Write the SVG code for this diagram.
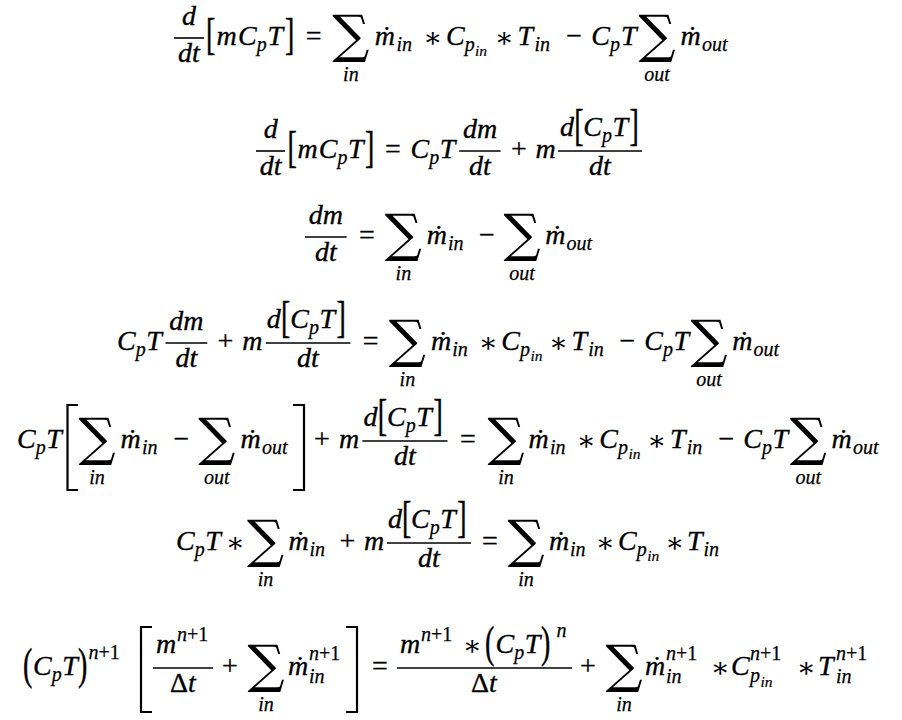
<svg xmlns="http://www.w3.org/2000/svg" width="902" height="720" viewBox="0 0 902 720">
<style>
.i { font-style: italic; font-size: 28px; stroke: #000; stroke-width: 0.35px; }
.u { font-size: 28px; font-style: normal; stroke: #000; stroke-width: 0.3px; }
.s { font-style: italic; font-size: 20px; stroke: #000; stroke-width: 0.25px; }
.su { font-style: normal; }
.ss { font-style: italic; font-size: 15.5px; stroke: #000; stroke-width: 0.2px; }
.c { text-anchor: middle; }
.sum { font-size: 52px; text-anchor: middle; font-style: normal; }
.ast { font-size: 28px; text-anchor: middle; font-style: normal; }
.bar { stroke: #000; stroke-width: 1.6; }
.bk { fill: none; stroke: #000; stroke-width: 2.2; }
</style>
<rect width="902" height="720" fill="#fff"/>

<g id="eq1" transform="translate(0,45)">
  <text font-family="Liberation Serif" class="i c" x="189" y="-20">d</text>
  <line class="bar" x1="174" y1="-7" x2="204" y2="-7"/>
  <text font-family="Liberation Serif" class="i c" x="189" y="17">dt</text>
  <text font-family="Liberation Serif" class="u" transform="translate(206,3.9) scale(1,1.55)">[</text>
  <text font-family="Liberation Serif" class="i" x="216.5" y="0">m</text>
  <text font-family="Liberation Serif" class="i" x="238" y="0">C</text>
  <text font-family="Liberation Serif" class="s" x="256.7" y="6">p</text>
  <text font-family="Liberation Serif" class="i" x="267.5" y="0">T</text>
  <text font-family="Liberation Serif" class="u" transform="translate(285,3.9) scale(1,1.55)">]</text>
  <text font-family="Liberation Serif" class="u c" x="313.7" y="0">=</text>
  <text font-family="DejaVu Serif" class="sum" x="350.9" y="7">∑</text>
  <text font-family="Liberation Serif" class="s c" x="350.9" y="36">in</text>
  <text font-family="Liberation Serif" class="i" x="374.7" y="0">ṁ</text>
  <text font-family="Liberation Serif" class="s" x="396.4" y="6">in</text>
  <text font-family="DejaVu Serif" class="ast" x="432.6" y="2">∗</text>
  <text font-family="Liberation Serif" class="i" x="446" y="0">C</text>
  <text font-family="Liberation Serif" class="s" x="464.7" y="6">p</text>
  <text font-family="Liberation Serif" class="ss" x="475" y="11">in</text>
  <text font-family="DejaVu Serif" class="ast" x="503.9" y="2">∗</text>
  <text font-family="Liberation Serif" class="i" x="517.4" y="0">T</text>
  <text font-family="Liberation Serif" class="s" x="534.4" y="6">in</text>
  <text font-family="Liberation Serif" class="u c" x="574.2" y="0">−</text>
  <text font-family="Liberation Serif" class="i" x="591.3" y="0">C</text>
  <text font-family="Liberation Serif" class="s" x="610" y="6">p</text>
  <text font-family="Liberation Serif" class="i" x="621" y="0">T</text>
  <text font-family="DejaVu Serif" class="sum" x="657" y="7">∑</text>
  <text font-family="Liberation Serif" class="s c" x="657" y="36">out</text>
  <text font-family="Liberation Serif" class="i" x="680.5" y="0">ṁ</text>
  <text font-family="Liberation Serif" class="s" x="702" y="6">out</text>
</g>

<g id="eq2" transform="translate(0,158)">
  <text font-family="Liberation Serif" class="i c" x="270.7" y="-20">d</text>
  <line class="bar" x1="256" y1="-7" x2="285" y2="-7"/>
  <text font-family="Liberation Serif" class="i c" x="270.7" y="17">dt</text>
  <text font-family="Liberation Serif" class="u" transform="translate(287.4,3.9) scale(1,1.55)">[</text>
  <text font-family="Liberation Serif" class="i" x="297.6" y="0">m</text>
  <text font-family="Liberation Serif" class="i" x="318.8" y="0">C</text>
  <text font-family="Liberation Serif" class="s" x="337.5" y="6">p</text>
  <text font-family="Liberation Serif" class="i" x="348" y="0">T</text>
  <text font-family="Liberation Serif" class="u" transform="translate(365,3.9) scale(1,1.55)">]</text>
  <text font-family="Liberation Serif" class="u c" x="392.8" y="0">=</text>
  <text font-family="Liberation Serif" class="i" x="410.5" y="0">C</text>
  <text font-family="Liberation Serif" class="s" x="429.2" y="6">p</text>
  <text font-family="Liberation Serif" class="i" x="439.8" y="0">T</text>
  <text font-family="Liberation Serif" class="i c" x="480" y="-20">dm</text>
  <line class="bar" x1="459.2" y1="-7" x2="500.6" y2="-7"/>
  <text font-family="Liberation Serif" class="i c" x="480" y="17">dt</text>
  <text font-family="Liberation Serif" class="u c" x="518.9" y="0">+</text>
  <text font-family="Liberation Serif" class="i" x="535.6" y="0">m</text>
  <text font-family="Liberation Serif" class="i" x="560" y="-22">d</text>
  <text font-family="Liberation Serif" class="u" transform="translate(574.2,-18.1) scale(1,1.55)">[</text>
  <text font-family="Liberation Serif" class="i" x="583.3" y="-22">C</text>
  <text font-family="Liberation Serif" class="s" x="602" y="-16">p</text>
  <text font-family="Liberation Serif" class="i" x="612.6" y="-22">T</text>
  <text font-family="Liberation Serif" class="u" transform="translate(629.5,-18.1) scale(1,1.55)">]</text>
  <line class="bar" x1="558" y1="-7" x2="642" y2="-7"/>
  <text font-family="Liberation Serif" class="i c" x="600" y="17">dt</text>
</g>

<g id="eq3" transform="translate(0,244)">
  <text font-family="Liberation Serif" class="i c" x="325.8" y="-20">dm</text>
  <line class="bar" x1="305" y1="-7" x2="346.6" y2="-7"/>
  <text font-family="Liberation Serif" class="i c" x="325.8" y="17">dt</text>
  <text font-family="Liberation Serif" class="u c" x="366.9" y="0">=</text>
  <text font-family="DejaVu Serif" class="sum" x="403.4" y="7">∑</text>
  <text font-family="Liberation Serif" class="s c" x="403.4" y="36">in</text>
  <text font-family="Liberation Serif" class="i" x="426.7" y="0">ṁ</text>
  <text font-family="Liberation Serif" class="s" x="448" y="6">in</text>
  <text font-family="Liberation Serif" class="u c" x="487" y="0">−</text>
  <text font-family="DejaVu Serif" class="sum" x="522" y="7">∑</text>
  <text font-family="Liberation Serif" class="s c" x="522" y="36">out</text>
  <text font-family="Liberation Serif" class="i" x="545.3" y="0">ṁ</text>
  <text font-family="Liberation Serif" class="s" x="566.6" y="6">out</text>
</g>

<g id="eq4" transform="translate(0,350)">
  <text font-family="Liberation Serif" class="i" x="117" y="0">C</text>
  <text font-family="Liberation Serif" class="s" x="135.7" y="6">p</text>
  <text font-family="Liberation Serif" class="i" x="146.3" y="0">T</text>
  <text font-family="Liberation Serif" class="i c" x="186.4" y="-20">dm</text>
  <line class="bar" x1="165.5" y1="-7" x2="207.3" y2="-7"/>
  <text font-family="Liberation Serif" class="i c" x="186.4" y="17">dt</text>
  <text font-family="Liberation Serif" class="u c" x="225.5" y="0">+</text>
  <text font-family="Liberation Serif" class="i" x="242.3" y="0">m</text>
  <text font-family="Liberation Serif" class="i" x="266.8" y="-22">d</text>
  <text font-family="Liberation Serif" class="u" transform="translate(281,-18.1) scale(1,1.55)">[</text>
  <text font-family="Liberation Serif" class="i" x="290.2" y="-22">C</text>
  <text font-family="Liberation Serif" class="s" x="308.9" y="-16">p</text>
  <text font-family="Liberation Serif" class="i" x="319.4" y="-22">T</text>
  <text font-family="Liberation Serif" class="u" transform="translate(336.5,-18.1) scale(1,1.55)">]</text>
  <line class="bar" x1="265.8" y1="-7" x2="350.4" y2="-7"/>
  <text font-family="Liberation Serif" class="i c" x="308" y="17">dt</text>
  <text font-family="Liberation Serif" class="u c" x="370.7" y="0">=</text>
  <text font-family="DejaVu Serif" class="sum" x="407.4" y="7">∑</text>
  <text font-family="Liberation Serif" class="s c" x="407.4" y="36">in</text>
  <text font-family="Liberation Serif" class="i" x="430.9" y="0">ṁ</text>
  <text font-family="Liberation Serif" class="s" x="452.3" y="6">in</text>
  <text font-family="DejaVu Serif" class="ast" x="487.9" y="2">∗</text>
  <text font-family="Liberation Serif" class="i" x="501.2" y="0">C</text>
  <text font-family="Liberation Serif" class="s" x="519.9" y="6">p</text>
  <text font-family="Liberation Serif" class="ss" x="530.4" y="11">in</text>
  <text font-family="DejaVu Serif" class="ast" x="558.2" y="2">∗</text>
  <text font-family="Liberation Serif" class="i" x="571.5" y="0">T</text>
  <text font-family="Liberation Serif" class="s" x="588.3" y="6">in</text>
  <text font-family="Liberation Serif" class="u c" x="627.5" y="0">−</text>
  <text font-family="Liberation Serif" class="i" x="644.3" y="0">C</text>
  <text font-family="Liberation Serif" class="s" x="663" y="6">p</text>
  <text font-family="Liberation Serif" class="i" x="673.5" y="0">T</text>
  <text font-family="DejaVu Serif" class="sum" x="709" y="7">∑</text>
  <text font-family="Liberation Serif" class="s c" x="709" y="36">out</text>
  <text font-family="Liberation Serif" class="i" x="732.2" y="0">ṁ</text>
  <text font-family="Liberation Serif" class="s" x="753.5" y="6">out</text>
</g>

<g id="eq5" transform="translate(0,448)">
  <text font-family="Liberation Serif" class="i" x="17" y="0">C</text>
  <text font-family="Liberation Serif" class="s" x="35.7" y="6">p</text>
  <text font-family="Liberation Serif" class="i" x="46.2" y="0">T</text>
  <path class="bk" d="M78,-43 H67.5 V42 H78"/>
  <text font-family="DejaVu Serif" class="sum" x="97" y="7">∑</text>
  <text font-family="Liberation Serif" class="s c" x="97" y="36">in</text>
  <text font-family="Liberation Serif" class="i" x="120.5" y="0">ṁ</text>
  <text font-family="Liberation Serif" class="s" x="142" y="6">in</text>
  <text font-family="Liberation Serif" class="u c" x="181.5" y="0">−</text>
  <text font-family="DejaVu Serif" class="sum" x="216.9" y="7">∑</text>
  <text font-family="Liberation Serif" class="s c" x="216.9" y="36">out</text>
  <text font-family="Liberation Serif" class="i" x="240.5" y="0">ṁ</text>
  <text font-family="Liberation Serif" class="s" x="262" y="6">out</text>
  <path class="bk" d="M293,-43 H304 V42 H293"/>
  <text font-family="Liberation Serif" class="u c" x="321.9" y="0">+</text>
  <text font-family="Liberation Serif" class="i" x="338.9" y="0">m</text>
  <text font-family="Liberation Serif" class="i" x="363.5" y="-22">d</text>
  <text font-family="Liberation Serif" class="u" transform="translate(377.8,-18.1) scale(1,1.55)">[</text>
  <text font-family="Liberation Serif" class="i" x="387" y="-22">C</text>
  <text font-family="Liberation Serif" class="s" x="405.7" y="-16">p</text>
  <text font-family="Liberation Serif" class="i" x="416.2" y="-22">T</text>
  <text font-family="Liberation Serif" class="u" transform="translate(433.5,-18.1) scale(1,1.55)">]</text>
  <line class="bar" x1="362.4" y1="-7" x2="447.5" y2="-7"/>
  <text font-family="Liberation Serif" class="i c" x="405" y="17">dt</text>
  <text font-family="Liberation Serif" class="u c" x="468" y="0">=</text>
  <text font-family="DejaVu Serif" class="sum" x="506" y="7">∑</text>
  <text font-family="Liberation Serif" class="s c" x="506" y="36">in</text>
  <text font-family="Liberation Serif" class="i" x="528.5" y="0">ṁ</text>
  <text font-family="Liberation Serif" class="s" x="550" y="6">in</text>
  <text font-family="DejaVu Serif" class="ast" x="585.9" y="2">∗</text>
  <text font-family="Liberation Serif" class="i" x="599.2" y="0">C</text>
  <text font-family="Liberation Serif" class="s" x="617.9" y="6">p</text>
  <text font-family="Liberation Serif" class="ss" x="628.4" y="11">in</text>
  <text font-family="DejaVu Serif" class="ast" x="656.6" y="2">∗</text>
  <text font-family="Liberation Serif" class="i" x="670" y="0">T</text>
  <text font-family="Liberation Serif" class="s" x="686.8" y="6">in</text>
  <text font-family="Liberation Serif" class="u c" x="726.3" y="0">−</text>
  <text font-family="Liberation Serif" class="i" x="743.2" y="0">C</text>
  <text font-family="Liberation Serif" class="s" x="761.9" y="6">p</text>
  <text font-family="Liberation Serif" class="i" x="772.4" y="0">T</text>
  <text font-family="DejaVu Serif" class="sum" x="808.3" y="7">∑</text>
  <text font-family="Liberation Serif" class="s c" x="808.3" y="36">out</text>
  <text font-family="Liberation Serif" class="i" x="831.6" y="0">ṁ</text>
  <text font-family="Liberation Serif" class="s" x="853" y="6">out</text>
</g>

<g id="eq6" transform="translate(0,550)">
  <text font-family="Liberation Serif" class="i" x="176" y="0">C</text>
  <text font-family="Liberation Serif" class="s" x="194.7" y="6">p</text>
  <text font-family="Liberation Serif" class="i" x="205.2" y="0">T</text>
  <text font-family="DejaVu Serif" class="ast" x="235" y="2">∗</text>
  <text font-family="DejaVu Serif" class="sum" x="265.5" y="7">∑</text>
  <text font-family="Liberation Serif" class="s c" x="265.5" y="36">in</text>
  <text font-family="Liberation Serif" class="i" x="288.5" y="0">ṁ</text>
  <text font-family="Liberation Serif" class="s" x="309.5" y="6">in</text>
  <text font-family="Liberation Serif" class="u c" x="347.5" y="0">+</text>
  <text font-family="Liberation Serif" class="i" x="364" y="0">m</text>
  <text font-family="Liberation Serif" class="i" x="388" y="-22">d</text>
  <text font-family="Liberation Serif" class="u" transform="translate(402,-18.1) scale(1,1.55)">[</text>
  <text font-family="Liberation Serif" class="i" x="411" y="-22">C</text>
  <text font-family="Liberation Serif" class="s" x="429.7" y="-16">p</text>
  <text font-family="Liberation Serif" class="i" x="440.2" y="-22">T</text>
  <text font-family="Liberation Serif" class="u" transform="translate(457.3,-18.1) scale(1,1.55)">]</text>
  <line class="bar" x1="387" y1="-7" x2="471" y2="-7"/>
  <text font-family="Liberation Serif" class="i c" x="429" y="17">dt</text>
  <text font-family="Liberation Serif" class="u c" x="490" y="0">=</text>
  <text font-family="DejaVu Serif" class="sum" x="526" y="7">∑</text>
  <text font-family="Liberation Serif" class="s c" x="526" y="36">in</text>
  <text font-family="Liberation Serif" class="i" x="549" y="0">ṁ</text>
  <text font-family="Liberation Serif" class="s" x="570" y="6">in</text>
  <text font-family="DejaVu Serif" class="ast" x="605" y="2">∗</text>
  <text font-family="Liberation Serif" class="i" x="618" y="0">C</text>
  <text font-family="Liberation Serif" class="s" x="636.7" y="6">p</text>
  <text font-family="Liberation Serif" class="ss" x="647.2" y="11">in</text>
  <text font-family="DejaVu Serif" class="ast" x="674.5" y="2">∗</text>
  <text font-family="Liberation Serif" class="i" x="687" y="0">T</text>
  <text font-family="Liberation Serif" class="s" x="703.5" y="6">in</text>
</g>

<g id="eq7" transform="translate(0,675)">
  <text font-family="Liberation Serif" class="u" transform="translate(23,3.8) scale(1,1.55)">(</text>
  <text font-family="Liberation Serif" class="i" x="33" y="0">C</text>
  <text font-family="Liberation Serif" class="s" x="51.7" y="6">p</text>
  <text font-family="Liberation Serif" class="i" x="62.2" y="0">T</text>
  <text font-family="Liberation Serif" class="u" transform="translate(78,3.8) scale(1,1.55)">)</text>
  <text font-family="Liberation Serif" class="s" x="88.5" y="-16">n<tspan class="su">+1</tspan></text>
  <path class="bk" d="M152,-48 H141 V37 H152"/>
  <text font-family="Liberation Serif" class="i" x="156" y="-22">m</text>
  <text font-family="Liberation Serif" class="s" x="177" y="-34">n<tspan class="su">+1</tspan></text>
  <line class="bar" x1="153" y1="-7" x2="213" y2="-7"/>
  <text font-family="Liberation Serif" class="i c" x="183" y="17"><tspan class="su">Δ</tspan>t</text>
  <text font-family="Liberation Serif" class="u c" x="230" y="0">+</text>
  <text font-family="DejaVu Serif" class="sum" x="266" y="7">∑</text>
  <text font-family="Liberation Serif" class="s c" x="266" y="36">in</text>
  <text font-family="Liberation Serif" class="i" x="288" y="0">ṁ</text>
  <text font-family="Liberation Serif" class="s" x="309" y="-15">n<tspan class="su">+1</tspan></text>
  <text font-family="Liberation Serif" class="s" x="309" y="8">in</text>
  <path class="bk" d="M346,-48 H357 V37 H346"/>
  <text font-family="Liberation Serif" class="u c" x="380" y="0">=</text>
  <text font-family="Liberation Serif" class="i" x="400" y="-22">m</text>
  <text font-family="Liberation Serif" class="s" x="421" y="-34">n<tspan class="su">+1</tspan></text>
  <text font-family="DejaVu Serif" class="ast" x="472" y="-20">∗</text>
  <text font-family="Liberation Serif" class="u" transform="translate(485,-18.2) scale(1,1.55)">(</text>
  <text font-family="Liberation Serif" class="i" x="495.5" y="-22">C</text>
  <text font-family="Liberation Serif" class="s" x="514.2" y="-16">p</text>
  <text font-family="Liberation Serif" class="i" x="524.7" y="-22">T</text>
  <text font-family="Liberation Serif" class="u" transform="translate(541,-18.2) scale(1,1.55)">)</text>
  <text font-family="Liberation Serif" class="s" x="556.5" y="-38">n</text>
  <line class="bar" x1="397" y1="-7" x2="572" y2="-7"/>
  <text font-family="Liberation Serif" class="i c" x="484" y="17"><tspan class="su">Δ</tspan>t</text>
  <text font-family="Liberation Serif" class="u c" x="588" y="0">+</text>
  <text font-family="DejaVu Serif" class="sum" x="624" y="7">∑</text>
  <text font-family="Liberation Serif" class="s c" x="624" y="36">in</text>
  <text font-family="Liberation Serif" class="i" x="645" y="0">ṁ</text>
  <text font-family="Liberation Serif" class="s" x="666" y="-15">n<tspan class="su">+1</tspan></text>
  <text font-family="Liberation Serif" class="s" x="666" y="8">in</text>
  <text font-family="DejaVu Serif" class="ast" x="720" y="2">∗</text>
  <text font-family="Liberation Serif" class="i" x="731" y="0">C</text>
  <text font-family="Liberation Serif" class="s" x="750" y="-15">n<tspan class="su">+1</tspan></text>
  <text font-family="Liberation Serif" class="s" x="750" y="7">p</text>
  <text font-family="Liberation Serif" class="ss" x="760.5" y="12">in</text>
  <text font-family="DejaVu Serif" class="ast" x="806" y="2">∗</text>
  <text font-family="Liberation Serif" class="i" x="818" y="0">T</text>
  <text font-family="Liberation Serif" class="s" x="836" y="-15">n<tspan class="su">+1</tspan></text>
  <text font-family="Liberation Serif" class="s" x="836" y="8">in</text>
</g>
</svg>
